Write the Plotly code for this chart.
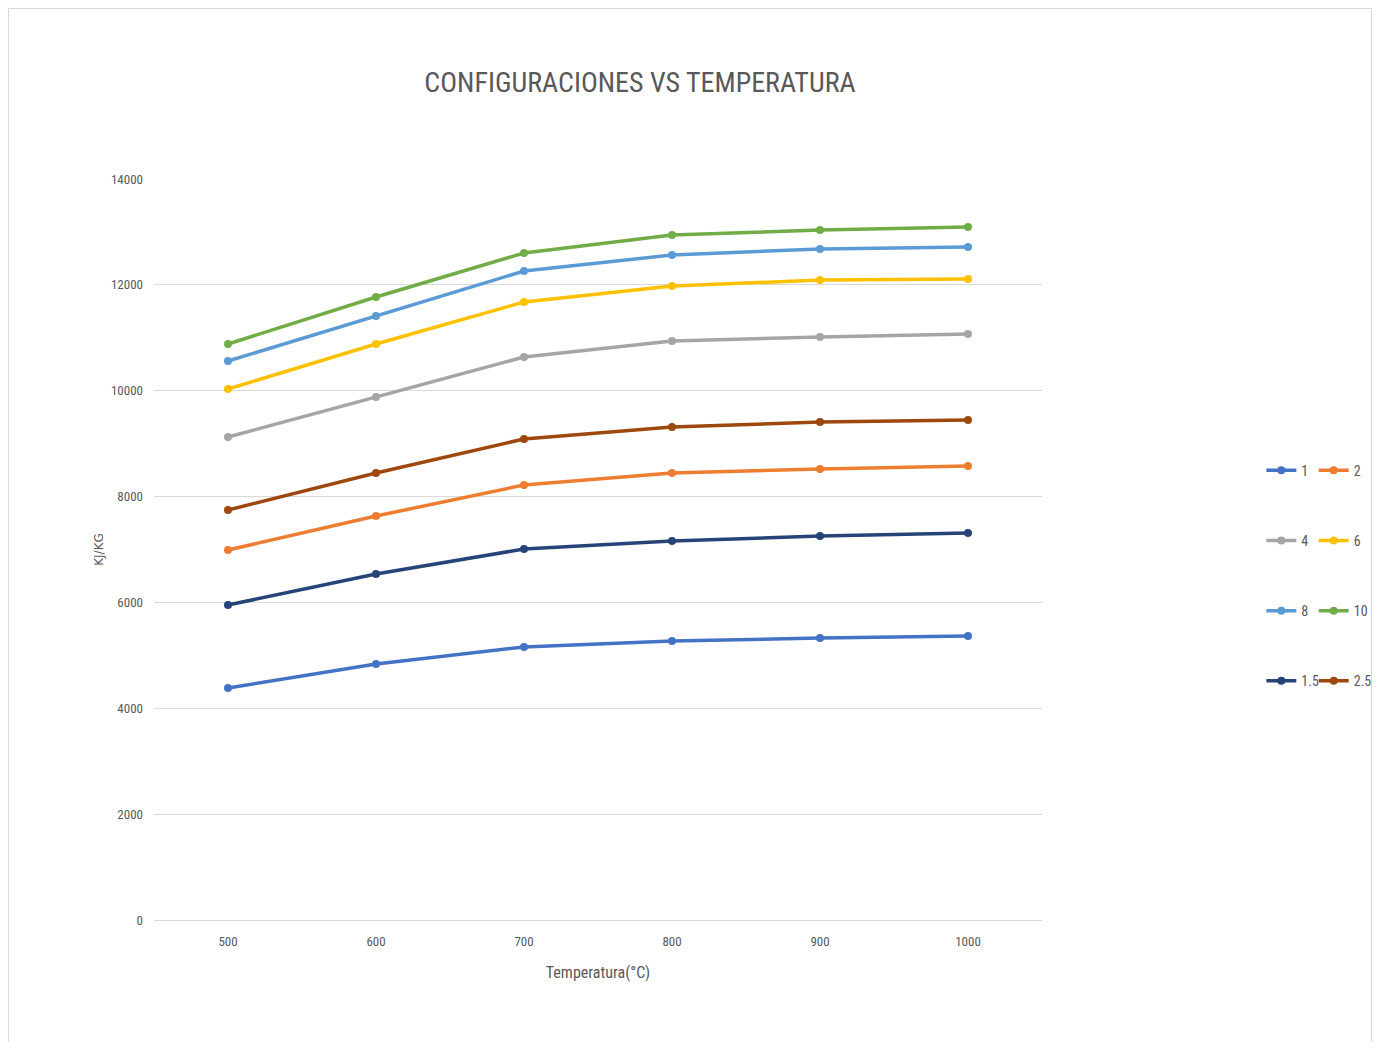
import plotly.graph_objects as go

temps = ["500", "600", "700", "800", "900", "1000"]
series_names = ["1", "2", "4", "6", "8", "10", "1.5", "2.5"]
s1 = [4383, 4837, 5158, 5271, 5328, 5366]
s2 = [6990, 7633, 8219, 8445, 8521, 8577]
s4 = [9125, 9881, 10637, 10939, 11015, 11071]
s6 = [10032, 10882, 11676, 11978, 12091, 12110]
s8 = [10561, 11411, 12262, 12564, 12677, 12715]
s10 = [10882, 11770, 12602, 12942, 13036, 13093]
s15 = [5951, 6537, 7009, 7161, 7255, 7312]
s25 = [7746, 8445, 9088, 9314, 9409, 9447]
values = [s1, s2, s4, s6, s8, s10, s15, s25]
colors = ["#4472C4", "#ED7D31", "#A5A5A5", "#FFC000", "#5B9BD5", "#70AD47", "#264478", "#9E480E"]
legend_ids = ["legend", "legend2", "legend", "legend2", "legend", "legend2", "legend", "legend2"]

FONT = "Liberation Sans Narrow, Arial Narrow, Roboto Condensed, sans-serif"

# figure is drawn at an 8px page offset (body margin); sized to avoid scrollbars
W, H = 1364, 1034
L, T = 146, 171
PW, PH = 888, 741

fig = go.Figure()
for name, vals, col, lg in zip(series_names, values, colors, legend_ids):
    fig.add_trace(go.Scatter(
        x=temps, y=vals, name=name, mode="lines+markers",
        line=dict(color=col, width=3.5),
        marker=dict(color=col, size=8),
        legend=lg, legendgroup=name,
    ))

leg_common = dict(orientation="v", xanchor="left", yanchor="top", y=0.628,
                  font=dict(family=FONT, size=14, color="#595959"),
                  bgcolor="rgba(0,0,0,0)", itemwidth=30, tracegroupgap=49)

fig.update_layout(
    width=W, height=H,
    margin=dict(l=L, r=W - L - PW, t=T, b=H - T - PH, autoexpand=False),
    paper_bgcolor="white", plot_bgcolor="white",
    title=dict(text="CONFIGURACIONES VS TEMPERATURA", x=632 / W, xanchor="center",
               y=1 - 74 / H, yanchor="middle",
               font=dict(family=FONT, size=28, color="#595959")),
    legend=dict(x=1.247, **leg_common),
    legend2=dict(x=1.306, **leg_common),
    xaxis=dict(type="category", showgrid=False, showline=False, zeroline=False,
               ticks="", tickfont=dict(family=FONT, size=13, color="#595959"),
               ticklabelstandoff=12,
               title=dict(text="Temperatura(°C)", font=dict(family=FONT, size=16, color="#595959"),
                          standoff=18),
               range=[-0.5, 5.5]),
    yaxis=dict(range=[0, 14000], dtick=2000, tickformat="d", showgrid=True, gridcolor="#D9D9D9",
               gridwidth=1, zeroline=True, zerolinecolor="#D9D9D9", zerolinewidth=1, showline=False,
               tickfont=dict(family=FONT, size=13, color="#595959"), ticks="",
               ticklabelstandoff=10,
               title=dict(text="KJ/KG", font=dict(family="DejaVu Sans, sans-serif", size=12, color="#595959"),
                          standoff=4)),
    showlegend=True,
)

# outer chart border (bottom edge runs off the page as in the reference)
fig.add_shape(type="rect", xref="paper", yref="paper",
              x0=(0.5 - L) / PW, x1=(W - 0.5 - L) / PW,
              y0=(T + PH - H - 20) / PH, y1=(T + PH - 0.5) / PH,
              line=dict(color="#D9D9D9", width=1), fillcolor="rgba(0,0,0,0)", layer="below")

fig.write_html("out.html")
